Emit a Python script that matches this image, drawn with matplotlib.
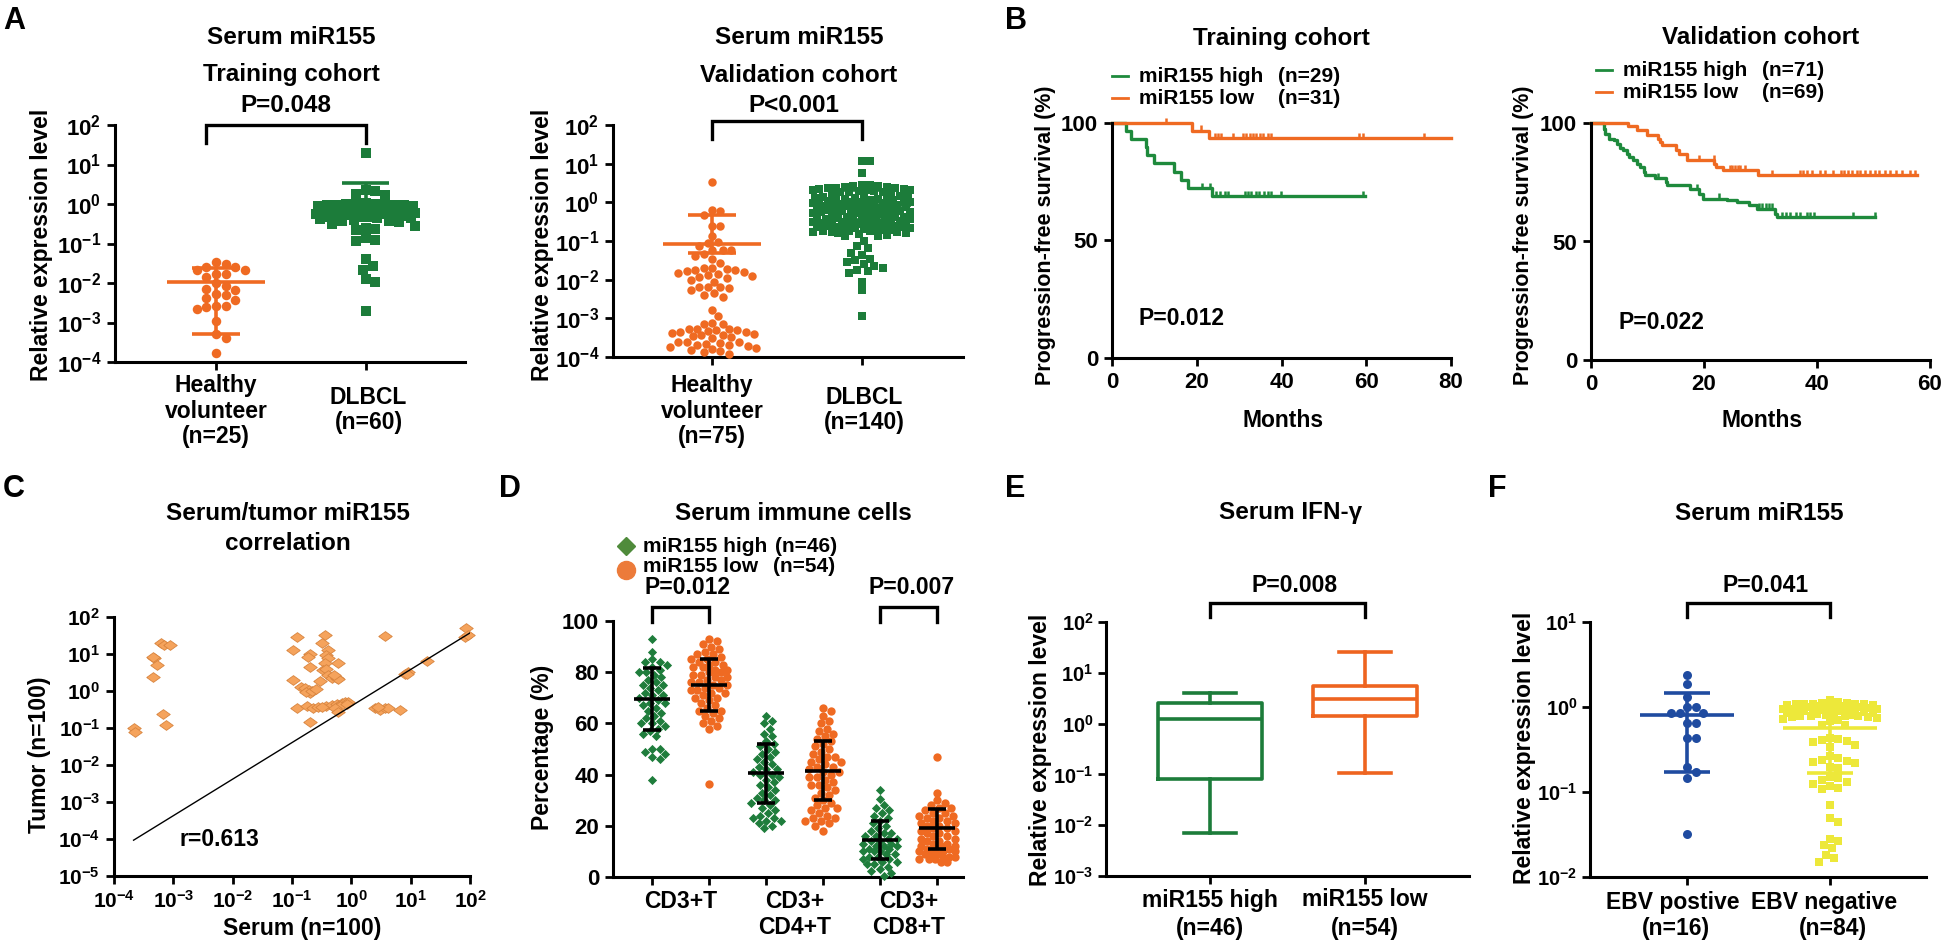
import numpy as np
import matplotlib
matplotlib.use('Agg')
import matplotlib.pyplot as plt
from matplotlib.lines import Line2D
from matplotlib.path import Path
from matplotlib.ticker import FixedLocator, FuncFormatter, NullLocator

plt.rcParams['font.family'] = 'Liberation Sans'
plt.rcParams['font.weight'] = 'bold'
plt.rcParams['axes.labelweight'] = 'bold'
plt.rcParams['mathtext.fontset'] = 'custom'
plt.rcParams['mathtext.rm'] = 'Liberation Sans:bold'
plt.rcParams['mathtext.bf'] = 'Liberation Sans:bold'
plt.rcParams['mathtext.default'] = 'rm'

ORANGE = '#EF6A22'
GREEN = '#1C7C3A'

# ---------------- data (log10 values for the log panels) ----------------
# A, training cohort
train_healthy = [-1.47, -1.51, -1.59, -1.59, -1.66, -1.66, -1.76, -1.78, -1.85, -2.0,
                 -2.08, -2.14, -2.18, -2.27, -2.31, -2.38, -2.44, -2.59, -2.59, -2.62,
                 -2.65, -2.97, -3.28, -3.38, -3.76]
train_dlbcl = [1.30, 0.36, 0.34, 0.25, 0.22,
               0.02, 0.01, 0.0, 0.0, -0.01, -0.02, -0.02, -0.03, -0.03, -0.04, -0.05, -0.05,
               -0.06, -0.07, -0.07, -0.08, -0.09, -0.10, -0.11, -0.12, -0.14,
               -0.18, -0.2, -0.22, -0.24, -0.25, -0.26, -0.27, -0.28, -0.3, -0.31, -0.32,
               -0.33, -0.34, -0.35, -0.36, -0.38, -0.4, -0.42, -0.44, -0.46, -0.5, -0.55, -0.6,
               -0.64, -0.66, -0.86, -0.90, -0.93, -1.40, -1.58, -1.68, -1.91, -1.97, -2.71]
train_mean = [-1.97, -0.05]
train_lo = [-3.28, -0.30]
train_hi = [-1.62, 0.53]

# A, validation cohort
valid_healthy = [0.53, -0.20, -0.22, -0.32, -0.60, -0.62, -0.86, -1.03, -1.05, -1.12,
                 -1.23, -1.23, -1.23, -1.33, -1.40, -1.47, -1.57,
                 -1.70, -1.70, -1.72, -1.74, -1.76, -1.78, -1.8, -1.82, -1.85, -1.88, -1.9,
                 -1.93, -1.96, -2.0, -2.05,
                 -2.2, -2.2, -2.2, -2.22, -2.28, -2.35, -2.4, -2.46,
                 -2.79, -2.95, -3.12, -3.14, -3.14,
                 -3.27, -3.27, -3.28, -3.3, -3.31, -3.33, -3.35, -3.36, -3.38, -3.4, -3.42,
                 -3.44, -3.46, -3.49, -3.52,
                 -3.6, -3.61, -3.62, -3.64, -3.66, -3.68, -3.7, -3.72, -3.74, -3.76, -3.79,
                 -3.82, -3.85, -3.88, -3.93]
valid_dlbcl = [1.07, 1.07, 0.77,
               0.46, 0.44, 0.42, 0.41, 0.40, 0.39, 0.38, 0.37, 0.36, 0.35, 0.34, 0.33, 0.32,
               0.31, 0.30, 0.29, 0.28, 0.27, 0.26, 0.25,
               0.18, 0.16, 0.15, 0.13, 0.12, 0.12, 0.10, 0.09, 0.08, 0.08, 0.07, 0.05, 0.05,
               0.04, 0.03, 0.02, 0.02, 0.01, 0.0, -0.01, -0.02, -0.02, -0.04, -0.05, -0.06,
               -0.06, -0.08, -0.09, -0.10, -0.11, -0.12, -0.13, -0.14, -0.15, -0.16, -0.18,
               -0.19, -0.20, -0.21, -0.22, -0.23, -0.24, -0.25, -0.26, -0.27, -0.28, -0.28,
               -0.29, -0.30, -0.31,
               -0.36, -0.37, -0.38, -0.39, -0.40, -0.41, -0.42, -0.42, -0.43, -0.44, -0.45,
               -0.46, -0.47, -0.48, -0.49, -0.50, -0.51, -0.52, -0.53, -0.54, -0.55, -0.56,
               -0.57, -0.58, -0.59, -0.60, -0.61, -0.62, -0.63, -0.64, -0.65, -0.66, -0.67,
               -0.68, -0.69, -0.70, -0.71, -0.72, -0.73, -0.74, -0.75, -0.76, -0.77, -0.78,
               -0.79, -0.80, -0.82, -0.84, -0.86, -0.88,
               -1.0, -1.14, -1.18, -1.31, -1.36,
               -1.47, -1.5, -1.55, -1.6, -1.65, -1.7, -1.75, -1.78, -1.82,
               -2.05, -2.27, -2.94]
valid_mean = [-1.07, -0.08]
valid_lo = [-1.30, -0.45]
valid_hi = [-0.32, 0.33]

# B, Kaplan-Meier (months, % progression-free)
b1_high_t = [0, 3.2, 4.4, 8.0, 8.2, 10.0, 14.7, 16.2, 17.9, 23.5]
b1_high_s = [100, 96.6, 93.1, 89.7, 86.2, 82.8, 79.3, 75.9, 72.4, 69.0]
b1_high_end = 59.6
b1_high_cens = [21.3, 23.2, 24.6, 25.4, 26.6, 27.4, 31.3, 32.0, 32.8, 34.0, 34.8, 35.8,
                36.7, 37.5, 39.9, 59.2]
b1_low_t = [0, 18.8, 22.8]
b1_low_s = [100, 96.8, 93.5]
b1_low_end = 80
b1_low_cens = [12.8, 20.9, 24.2, 25.0, 25.8, 28.5, 30.9, 31.7, 32.5, 33.3, 34.1, 34.9,
               35.7, 36.9, 37.5, 58.4, 59.2, 73.7]

b2_high_t = [0, 2.25, 2.5, 3.1, 4.0, 4.6, 5.2, 5.7, 6.3, 6.7, 7.4, 8.1, 8.7, 9.3, 9.6,
             11.4, 13.2, 13.5, 17.6, 19.1, 19.9, 24.1, 25.8, 27.9, 29.4, 32.6, 32.9]
b2_high_s = [100, 97.6, 95.5, 93.4, 92.7, 91.3, 89.6, 88.5, 87.1, 85.7, 84.3, 82.9, 81.5,
             79.4, 78.0, 76.6, 75.1, 73.7, 72.3, 70.2, 68.1, 67.4, 66.7, 65.3, 63.9, 61.8, 60.4]
b2_high_end = 50.3
b2_high_cens = [11.9, 18.8, 22.7, 29.7, 30.3, 30.9, 31.5, 32.1, 33.8, 34.5, 35.3, 36.2,
                37.0, 38.2, 38.8, 39.4, 46.4, 50.3]
b2_low_t = [0, 6.6, 8.1, 9.9, 11.8, 12.2, 12.6, 15.0, 15.6, 17.0, 21.8, 22.2, 23.4, 29.6]
b2_low_s = [100, 98.6, 97.2, 94.8, 93.4, 92.0, 90.6, 88.5, 87.1, 84.3, 82.9, 81.5, 80.1, 78.0]
b2_low_end = 57.7
b2_low_cens = [19.2, 21.7, 24.6, 25.0, 25.5, 26.0, 26.3, 27.2, 32.1, 37.0, 37.6, 38.3,
               39.2, 40.5, 41.5, 42.8, 44.2, 44.8, 45.5, 46.2, 47.0, 47.6, 48.5, 49.3,
               50.3, 51.0, 52.0, 53.0, 54.0, 55.0, 56.5, 57.3]

# C, serum vs tumor (log10)
serum_log = [-3.67, -3.65, -3.35, -3.33, -3.35, -3.28, -3.20, -3.16, -3.05, -3.17, -3.12,
             -0.91, -0.45, -0.50, -0.98, -0.39, -0.70, -0.73, -0.42, -0.39, -0.22, -0.45,
             -0.69, -0.47, -0.42, -0.39, -0.33, -0.25, -0.98, -0.53, -0.84, -0.78, -0.72,
             -0.70, -0.76, -0.66, -0.92, -0.75, -0.64, -0.56, -0.42, -0.33, -0.25, -0.16,
             -0.11, -0.19, -0.28, -0.70, -0.22, 0.40, 0.48, 0.57, 0.62, 0.82, 0.57, 0.90,
             0.96, 1.27, 1.94, 1.92, 1.97, -0.05, -0.08, -0.50, 0.45, 0.93, -0.60, -0.22, -0.30]
tumor_log = [-1.01, -1.10, 0.38, 0.88, 0.92, 0.71, 1.30, 1.24, 1.24, -0.63, -0.92,
             1.46, 1.51, 1.30, 1.12, 1.10, 0.99, 0.92, 0.97, 0.88, 0.76, 0.76,
             0.65, 0.58, 0.59, 0.43, 0.34, 0.34, 0.29, 0.27, 0.11, 0.07, 0.03,
             -0.05, -0.02, 0.0, -0.45, -0.40, -0.46, -0.42, -0.40, -0.38, -0.36, -0.33,
             -0.31, -0.40, -0.45, -0.83, -0.56, -0.47, -0.50, -0.45, -0.47, -0.52, 1.48, 0.47,
             0.52, 0.81, 1.69, 1.46, 1.51, -0.30, -0.35, -0.44, -0.44, 0.45, 0.05, 0.33, 0.42]
reg_slope, reg_icpt = 0.988, -0.406
reg_range = [-3.67, 2.0]

# D, immune cells (%)
d_groups = ['CD3+T', 'CD3+\nCD4+T', 'CD3+\nCD8+T']
cd3_high = [93, 88, 85, 84, 84, 83, 82, 81, 80, 80, 79, 78, 77, 76, 75, 75, 74, 73, 72, 71,
            71, 70, 69, 68, 68, 67, 66, 65, 64, 63, 62, 61, 60, 60, 59, 58, 57, 56, 55, 50,
            50, 49, 48, 47, 46, 38]
cd3_low = [93, 92, 91, 90, 89, 88, 87, 87, 86, 85, 85, 84, 84, 83, 83, 82, 82, 81, 81, 80,
           80, 79, 79, 78, 78, 77, 77, 76, 76, 75, 75, 74, 74, 73, 73, 72, 72, 71, 70, 70,
           69, 68, 67, 66, 65, 65, 64, 63, 62, 61, 60, 59, 58, 36.5]
cd4_high = [63, 61, 60, 58, 56, 55, 53, 52, 51, 50, 49, 48, 47, 46, 45, 44, 43, 42, 42, 41,
            40, 40, 39, 38, 37, 36, 35, 34, 33, 32, 31, 30, 30, 29, 28, 27, 26, 25, 24, 23,
            23, 22, 22, 21, 20, 19]
cd4_low = [66, 65, 63, 61, 60, 58, 57, 56, 55, 54, 53, 52, 51, 50, 49, 48, 47, 47, 46, 45,
           45, 44, 43, 43, 42, 41, 41, 40, 39, 39, 38, 37, 36, 36, 35, 34, 33, 32, 31, 30,
           29, 28, 27, 27, 26, 25, 24, 23, 23, 22, 22, 21, 20, 18]
cd8_high = [34, 30.5, 28, 27, 26, 25, 24, 23, 22, 21, 20, 19, 18, 17, 17, 16, 16, 15, 15, 14,
            14, 13, 13, 12, 12, 12, 11, 11, 10, 10, 10, 9, 9, 8, 8, 7, 7, 6, 6, 5, 5, 4, 3,
            2.5, 1.5, 0.5]
cd8_low = [47, 33, 30, 29, 28, 27, 27, 26, 25, 25, 24, 24, 23, 23, 22, 22, 21, 21, 20, 20,
           19, 19, 18, 18, 17, 17, 16, 16, 15, 15, 14, 14, 13, 13, 12, 12, 12, 11, 11, 11,
           10, 10, 10, 9, 9, 9, 8, 8, 8, 7, 7, 7, 6, 6]
d_mean = [69.5, 75, 40.5, 41.5, 14.5, 19]
d_lo = [57.5, 65, 29, 30, 7, 11]
d_hi = [81.5, 85, 52, 53, 22, 26.5]

# E, IFN-gamma box plots
e_whislo = [0.0071, 0.107]
e_q1 = [0.083, 1.42]
e_med = [1.26, 3.1]
e_q3 = [2.5, 5.6]
e_whishi = [4.0, 25.7]

# F, EBV (log10)
ebv_pos = [0.376, 0.27, 0.114, -0.004, -0.004, -0.067, -0.067, -0.067, -0.19, -0.19,
           -0.36, -0.36, -0.70, -0.76, -0.84, -1.49]
ebv_neg = [0.08, 0.06, 0.05, 0.05, 0.04, 0.04, 0.03, 0.03, 0.03, 0.02, 0.02, 0.02, 0.01,
           0.01, 0.01, 0.0, 0.0, 0.0, -0.01, -0.01, -0.01, -0.02, -0.02, -0.02, -0.03,
           -0.03, -0.03, -0.04, -0.04, -0.05, -0.05, -0.06, -0.06, -0.07, -0.07, -0.08,
           -0.08, -0.09, -0.09, -0.1, -0.1, -0.11, -0.11, -0.12, -0.12, -0.13, -0.14, -0.15,
           -0.16,
           -0.21, -0.21, -0.37, -0.38, -0.39, -0.40, -0.41, -0.45, -0.47, -0.58, -0.60,
           -0.62, -0.63, -0.65, -0.66, -0.70, -0.72, -0.82, -0.84, -0.86, -0.88, -0.90,
           -0.93, -0.95, -0.96, -1.15, -1.30, -1.35, -1.55, -1.58, -1.62, -1.66, -1.74,
           -1.78, -1.82]
ebv_mean = [-0.094, -0.25]
ebv_lo = [-0.76, -0.78]
ebv_hi = [0.161, 0.0]

# ---------------- helpers ----------------
W, H = 1946, 943
fig = plt.figure(figsize=(W / 100, H / 100), dpi=100)


def add_ax(l, t, r, b):
    ax = fig.add_axes([l / W, 1 - b / H, (r - l) / W, (b - t) / H])
    ax.spines[['top', 'right']].set_visible(False)
    for s in ('left', 'bottom'):
        ax.spines[s].set_linewidth(2.2)
    ax.tick_params(width=2, length=6, labelsize=16, direction='out', pad=4)
    ax.patch.set_alpha(0)
    return ax


def ftext(x, y, s, **kw):
    kw.setdefault('ha', 'center')
    kw.setdefault('va', 'center')
    kw.setdefault('fontweight', 'bold')
    fig.text(x / W, 1 - y / H, s, **kw)


def yfrac(ax, ypx):
    bb = ax.get_position()
    return ((1 - ypx / H) - bb.y0) / bb.height


def bracket(ax, x1, x2, ytop, ybot):
    yt, yb = yfrac(ax, ytop), yfrac(ax, ybot)
    ax.plot([x1, x1, x2, x2], [yb, yt, yt, yb], transform=ax.get_xaxis_transform(),
            color='k', lw=2.4, clip_on=False, solid_joinstyle='miter')


def logfmt(v, p):
    return r'$10^{%d}$' % int(round(np.log10(v)))


def log_y(ax, lo, hi, size=15, pad=4):
    ax.set_yscale('log')
    ax.set_ylim(10.0 ** lo, 10.0 ** hi)
    ax.yaxis.set_major_locator(FixedLocator([10.0 ** k for k in range(lo, hi + 1)]))
    ax.yaxis.set_minor_locator(NullLocator())
    ax.yaxis.set_major_formatter(FuncFormatter(logfmt))
    ax.tick_params(axis='y', labelsize=size, pad=pad)


def swarm(ax, xc, vals, size_px, half_px):
    vals = np.asarray(vals, float)
    pts = ax.transData.transform(np.column_stack([np.full(len(vals), xc), vals]))
    cx, ys = pts[0, 0], pts[:, 1]
    step = size_px / 4
    cands = [0.0]
    for k in range(1, int(half_px / step) + 1):
        cands += [k * step, -k * step]
    cands = np.array(cands)
    px, py = [], []
    offs = np.zeros(len(vals))
    for i in np.argsort(-ys):
        y = ys[i]
        if px:
            d = np.sqrt((cands[:, None] - np.array(px)[None, :]) ** 2 +
                        (y - np.array(py)[None, :]) ** 2).min(axis=1)
            ok = np.nonzero(d >= size_px * 0.95)[0]
            j = ok[0] if len(ok) else int(np.argmax(d))
        else:
            j = 0
        offs[i] = cands[j]
        px.append(cands[j])
        py.append(y)
    return ax.transData.inverted().transform(np.column_stack([cx + offs, ys]))[:, 0]


def mean_err(ax, xc, m, lo, hi, color, hw=0.33, cw=0.16, lw=2.6):
    ax.hlines(m, xc - hw, xc + hw, color=color, lw=lw, zorder=4)
    ax.vlines(xc, lo, hi, color=color, lw=lw, zorder=4)
    ax.hlines([lo, hi], xc - cw, xc + cw, color=color, lw=lw, zorder=4)


def km(ax, t, s, end, cens, color):
    ax.step(list(t) + [end], list(s) + [s[-1]], where='post', color=color, lw=2.4,
            clip_on=False)
    idx = np.searchsorted(t, cens, side='right') - 1
    ax.plot(cens, np.array(s)[idx] + 0.9, ls='none', marker='|', ms=5, mew=1.8,
            color=color, clip_on=False)


LAB = 16.5
TIT = 17.5

# ---------------- A ----------------
for (l, r, b, data_h, data_d, mm, lo, hi, msz, hws, title2, ptxt, nh, nd, br, cx, ylx) in [
        (115, 465, 362, train_healthy, train_dlbcl, train_mean, train_lo, train_hi, 47,
         (41, 50), 'Training cohort', 'P=0.048', '(n=25)', '(n=60)', (-0.07, 1.0, 125, 143),
         291, 42),
        (613, 963, 357, valid_healthy, valid_dlbcl, valid_mean, valid_lo, valid_hi, 37,
         (48, 49), 'Validation cohort', 'P<0.001', '(n=75)', '(n=140)', (0, 1, 121, 139),
         799, 543)]:
    ax = add_ax(l, 125, r, b)
    log_y(ax, -4, 2, size=16)
    left_px = 101 if l == 115 else 99
    ax.set_xlim(-left_px / 149.5, (r - l - left_px) / 149.5)
    ax.set_xticks([0, 1])
    ax.set_xticklabels(['', ''])
    hv = 10.0 ** np.array(data_h)
    dv = 10.0 ** np.array(data_d)
    size_px = np.sqrt(msz) / 0.72
    ax.scatter(swarm(ax, 0, hv, size_px, hws[0]), hv, s=msz, marker='o', color=ORANGE,
               lw=0, zorder=3, clip_on=False)
    ax.scatter(swarm(ax, 1, dv, size_px, hws[1]), dv, s=msz, marker='s', color=GREEN,
               lw=0, zorder=3, clip_on=False)
    mean_err(ax, 0, 10 ** mm[0], 10 ** lo[0], 10 ** hi[0], ORANGE)
    mean_err(ax, 1, 10 ** mm[1], 10 ** lo[1], 10 ** hi[1], GREEN)
    bracket(ax, br[0], br[1], br[2], br[3])
    ftext(cx, 37, 'Serum miR155', fontsize=TIT)
    ftext(cx, 75, title2, fontsize=TIT)
    ftext(cx - 5, 105, ptxt, fontsize=TIT)
    p0 = ax.transData.transform((0, 1))[0]
    p1 = ax.transData.transform((1, 1))[0]
    ftext(p0, 411, 'Healthy\nvolunteer\n' + nh, fontsize=LAB, linespacing=1.12)
    ftext(p1 + 3, 410, 'DLBCL\n' + nd, fontsize=LAB, linespacing=1.12)
    ftext(ylx, 245, 'Relative expression level', fontsize=LAB, rotation=90)

ftext(3, 6, 'A', fontsize=22, ha='left', va='top')

# ---------------- B ----------------
for (l, b, xmax, hi_t, hi_s, hi_e, hi_c, lo_t, lo_s, lo_e, lo_c, title, nh, nl, ptxt, lx,
     ly, py) in [
        (1112, 358, 80, b1_high_t, b1_high_s, b1_high_end, b1_high_cens, b1_low_t, b1_low_s,
         b1_low_end, b1_low_cens, 'Training cohort', '(n=29)', '(n=31)', 'P=0.012', 1112,
         (76, 98), 318),
        (1591, 360, 60, b2_high_t, b2_high_s, b2_high_end, b2_high_cens, b2_low_t, b2_low_s,
         b2_low_end, b2_low_cens, 'Validation cohort', '(n=71)', '(n=69)', 'P=0.022', 1596,
         (70, 92), 323)]:
    r = l + 339
    ax = add_ax(l, 123, r, b)
    ax.set_xlim(0, xmax)
    ax.set_ylim(0, 100)
    ax.set_xticks(np.arange(0, xmax + 1, 20))
    ax.set_yticks([0, 50, 100])
    km(ax, hi_t, hi_s, hi_e, hi_c, '#1E8A3C')
    km(ax, lo_t, lo_s, lo_e, lo_c, ORANGE)
    ftext((l + r) / 2, 38, title, fontsize=TIT)
    for yy, col, name, n in [(ly[0], '#1E8A3C', 'miR155 high', nh),
                             (ly[1], ORANGE, 'miR155 low', nl)]:
        fig.add_artist(Line2D([lx / W, (lx + 16) / W], [1 - yy / H, 1 - yy / H], color=col,
                              lw=2))
        ftext(lx + 27, yy, name, fontsize=15, ha='left')
        ftext(lx + 166, yy, n, fontsize=15, ha='left')
    ftext(l + 27, py, ptxt, fontsize=LAB, ha='left')
    ftext((l + r) / 2 + 2, 420, 'Months', fontsize=LAB)
    ftext(l - 67, 235, 'Progression-free survival (%)', fontsize=15.5, rotation=90)

ftext(1005, 6, 'B', fontsize=22, ha='left', va='top')

# ---------------- C ----------------
ax = add_ax(114, 617, 470, 876)
ax.set_xscale('log')
ax.set_xlim(1e-4, 1e2)
ax.xaxis.set_major_locator(FixedLocator([10.0 ** k for k in range(-4, 3)]))
ax.xaxis.set_minor_locator(NullLocator())
ax.xaxis.set_major_formatter(FuncFormatter(logfmt))
ax.tick_params(axis='x', labelsize=15)
log_y(ax, -5, 2)
diamond = Path([(-1, 0), (0, 0.72), (1, 0), (0, -0.72), (-1, 0)])
ax.scatter(10.0 ** np.array(serum_log), 10.0 ** np.array(tumor_log), s=95, marker=diamond,
           color='#F5A35C', edgecolors='#D8843E', linewidths=0.6, zorder=3, clip_on=False)
rx = np.array(reg_range)
ax.plot(10.0 ** rx, 10.0 ** (reg_slope * rx + reg_icpt), color='k', lw=1.0, zorder=4)
ax.text(10 ** -2.9, 10 ** -4.0, 'r=0.613', fontsize=LAB, fontweight='bold', va='center')
ftext(288, 513, 'Serum/tumor miR155', fontsize=TIT)
ftext(288, 543, 'correlation', fontsize=TIT)
ftext(40, 755, 'Tumor (n=100)', fontsize=LAB, rotation=90)
ftext(302, 929, 'Serum (n=100)', fontsize=LAB)
ftext(3, 474, 'C', fontsize=22, ha='left', va='top')

# ---------------- D ----------------
ax = add_ax(613, 621, 963, 877)
ax.set_xlim(-39 / 57, 311 / 57)
ax.set_ylim(0, 100)
ax.set_yticks(np.arange(0, 101, 20))
ax.set_xticks(range(6))
ax.set_xticklabels([''] * 6)
D_GREEN = '#1F7D3C'
d_sets = [cd3_high, cd3_low, cd4_high, cd4_low, cd8_high, cd8_low]
for k, vals in enumerate(d_sets):
    if k % 2 == 0:
        ax.scatter(swarm(ax, k, vals, 7.5, 17), vals, s=22, marker='D', color=D_GREEN, lw=0,
                   zorder=3, clip_on=False)
    else:
        ax.scatter(swarm(ax, k, vals, 8.0, 19), vals, s=36, marker='o', color=ORANGE, lw=0,
                   zorder=3, clip_on=False)
    mean_err(ax, k, d_mean[k], d_lo[k], d_hi[k], 'k', hw=0.32, cw=0.16, lw=2.6)
bracket(ax, 0, 1, 607, 622)
bracket(ax, 4, 5, 607, 622)
for k, lab in enumerate(d_groups):
    xc = ax.transData.transform((2 * k + 0.5, 50))[0]
    ftext(xc, 890, lab, fontsize=LAB, va='top', linespacing=1.15)
ftext(793, 513, 'Serum immune cells', fontsize=TIT)
fig.add_artist(Line2D([626 / W], [1 - 546 / H], marker='D', ms=9, color='#4F8B3B', lw=0))
fig.add_artist(Line2D([626 / W], [1 - 570 / H], marker='o', ms=13, color='#EC7B3A', lw=0))
ftext(643, 546, 'miR155 high', fontsize=15, ha='left')
ftext(775, 546, '(n=46)', fontsize=15, ha='left')
ftext(643, 567, 'miR155 low', fontsize=15, ha='left')
ftext(773, 567, '(n=54)', fontsize=15, ha='left')
ftext(687, 588, 'P=0.012', fontsize=LAB)
ftext(912, 588, 'P=0.007', fontsize=LAB)
ftext(543, 747, 'Percentage (%)', fontsize=LAB, rotation=90)
ftext(499, 474, 'D', fontsize=22, ha='left', va='top')

# ---------------- E ----------------
ax = add_ax(1106, 622, 1469, 876)
log_y(ax, -3, 2, size=14.5, pad=3)
ax.set_xlim(1 - 104 / 155, 2 + 104 / 155)
ax.set_xticks([1, 2])
ax.set_xticklabels(['', ''])
for k, col in enumerate([GREEN, '#EE6420']):
    st = dict(whislo=e_whislo[k], q1=e_q1[k], med=e_med[k], q3=e_q3[k], whishi=e_whishi[k],
              fliers=[])
    ax.bxp([st], positions=[k + 1], widths=0.665, capwidths=0.33, showfliers=False,
           boxprops=dict(color=col, lw=2.6), whiskerprops=dict(color=col, lw=2.6),
           capprops=dict(color=col, lw=2.6), medianprops=dict(color=col, lw=2.6),
           manage_ticks=False)
bracket(ax, 1, 2, 603, 617)
for k, (a, n) in enumerate([('miR155 high', '(n=46)'), ('miR155 low', '(n=54)')]):
    xc = ax.transData.transform((k + 1, 1))[0]
    ftext(xc, 900, a, fontsize=LAB)
    ftext(xc, 928, n, fontsize=LAB)
ftext(1291, 513, 'Serum IFN-γ', fontsize=TIT)
ftext(1295, 585, 'P=0.008', fontsize=LAB)
ftext(1040, 750, 'Relative expression level', fontsize=LAB, rotation=90)
ftext(1005, 474, 'E', fontsize=22, ha='left', va='top')

# ---------------- F ----------------
ax = add_ax(1590, 622, 1926, 877)
log_y(ax, -2, 1, size=14.5, pad=3)
ax.set_xlim(-97 / 143, 1 + 96 / 143)
ax.set_xticks([0, 1])
ax.set_xticklabels(['', ''])
BLUE = '#1F4BA0'
YELLOW = '#EDE83A'
pv = 10.0 ** np.array(ebv_pos)
nv = 10.0 ** np.array(ebv_neg)
ax.scatter(swarm(ax, 0, pv, 9.0, 27), pv, s=42, marker='o', color=BLUE, lw=0, zorder=3)
ax.scatter(swarm(ax, 1, nv, 8.5, 47), nv, s=37, marker='s', color=YELLOW, lw=0, zorder=3)
mean_err(ax, 0, 10 ** ebv_mean[0], 10 ** ebv_lo[0], 10 ** ebv_hi[0], BLUE)
mean_err(ax, 1, 10 ** ebv_mean[1], 10 ** ebv_lo[1], 10 ** ebv_hi[1], YELLOW)
bracket(ax, 0, 1, 603, 617)
for k, (a, n) in enumerate([('EBV postive', '(n=16)'), ('EBV negative', '(n=84)')]):
    xc = ax.transData.transform((k, 1))[0]
    ftext(xc - 14 + 8 * k, 902, a, fontsize=LAB)
    ftext(xc - 11 + 14 * k, 929, n, fontsize=LAB)
ftext(1759, 513, 'Serum miR155', fontsize=TIT)
ftext(1766, 585, 'P=0.041', fontsize=LAB)
ftext(1524, 748, 'Relative expression level', fontsize=LAB, rotation=90)
ftext(1488, 474, 'F', fontsize=22, ha='left', va='top')

fig.savefig('out.png', dpi=100)
